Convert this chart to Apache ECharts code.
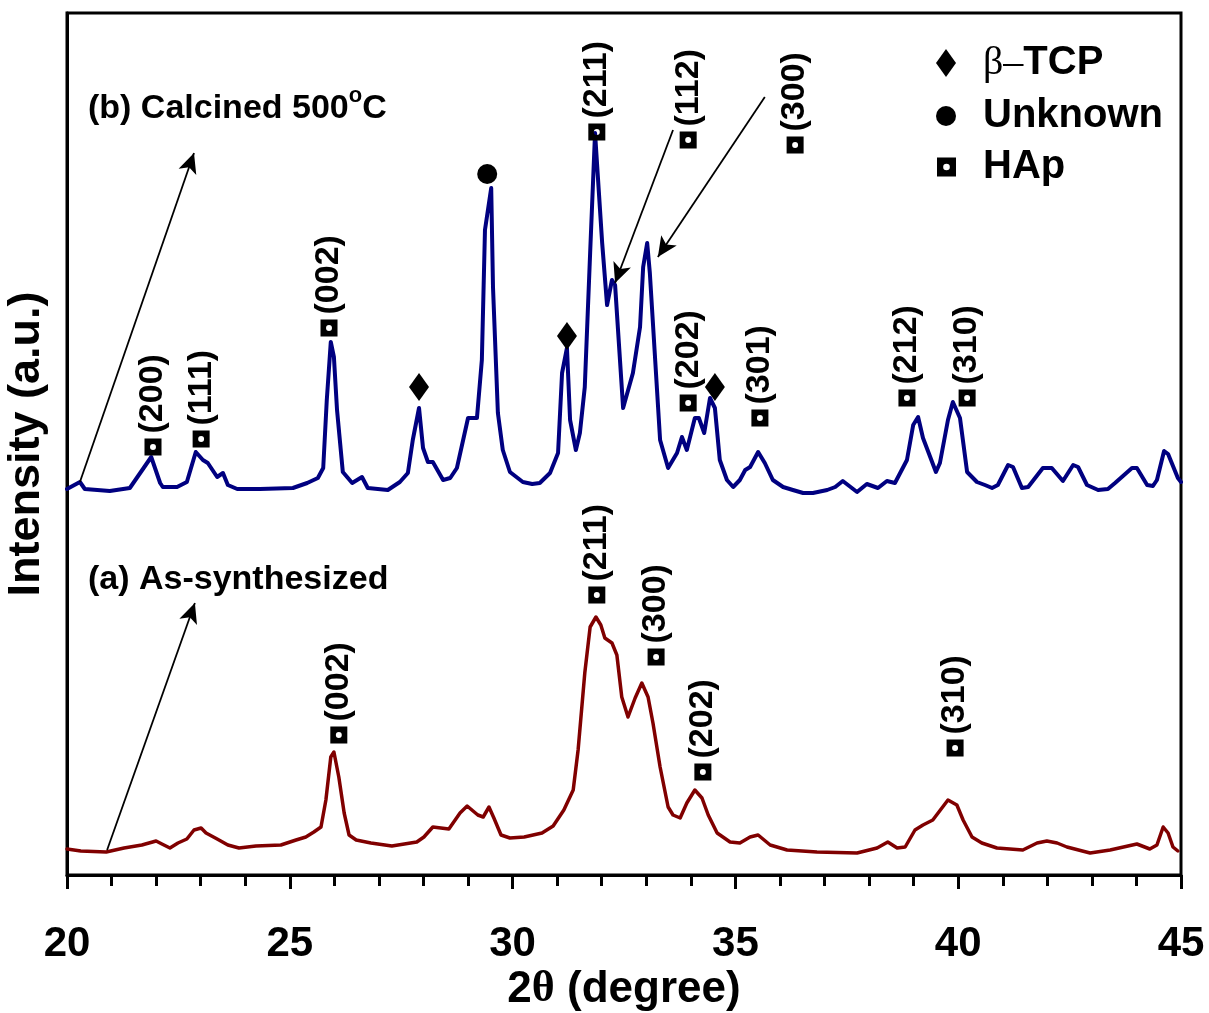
<!DOCTYPE html>
<html>
<head>
<meta charset="utf-8">
<script src="https://cdn.jsdelivr.net/npm/echarts/dist/echarts.min.js"></script>
<style>
html,body{margin:0;padding:0;background:#fff;}
#chart{width:1209px;height:1013px;}
</style>
</head>
<body>
<div id="chart"></div>
<script>
// ---------------- DATA ----------------
const xTicks = [20, 25, 30, 35, 40, 45];

// (b) Calcined 500 °C : [2θ, intensity (a.u., offset trace)]
const calcined = [
 [20.00,386],[20.29,393],[20.40,386],[20.96,384],[21.41,387],[21.89,418],[22.09,392],[22.15,388],
 [22.47,388],[22.69,393],[22.89,423],[23.05,415],[23.16,412],[23.37,398],[23.50,402],[23.61,390],
 [23.82,386],[24.33,386],[25.07,387],[25.39,392],[25.63,397],[25.75,407],[25.83,475],[25.92,533],
 [25.99,518],[26.06,465],[26.19,403],[26.40,392],[26.62,398],[26.75,387],[27.20,385],[27.47,393],
 [27.65,402],[27.76,435],[27.90,467],[27.99,427],[28.10,413],[28.21,413],[28.44,395],[28.60,397],
 [28.75,407],[29.00,457],[29.20,457],[29.31,515],[29.38,645],[29.52,687],[29.56,588],[29.67,462],
 [29.78,425],[29.94,403],[30.23,393],[30.44,391],[30.61,392],[30.84,402],[31.02,422],[31.11,502],
 [31.22,527],[31.29,455],[31.42,425],[31.51,442],[31.62,488],[31.74,622],[31.85,742],[31.89,742],
 [32.01,632],[32.12,570],[32.23,595],[32.30,590],[32.48,467],[32.70,502],[32.86,548],[32.93,608],
 [33.02,632],[33.08,602],[33.31,435],[33.49,407],[33.69,422],[33.80,438],[33.91,425],[34.09,457],
 [34.18,457],[34.30,442],[34.43,477],[34.54,467],[34.65,415],[34.81,395],[34.95,388],[35.10,395],
 [35.22,405],[35.33,408],[35.51,423],[35.66,412],[35.84,395],[36.07,388],[36.29,385],[36.52,382],
 [36.74,382],[37.06,385],[37.24,388],[37.41,394],[37.73,383],[37.95,391],[38.20,387],[38.40,394],
 [38.58,392],[38.85,415],[38.99,450],[39.10,458],[39.21,437],[39.50,403],[39.59,412],[39.77,455],
 [39.88,473],[40.04,457],[40.20,403],[40.42,393],[40.60,390],[40.76,387],[40.89,390],[41.12,410],
 [41.23,408],[41.43,387],[41.57,388],[41.90,407],[42.10,407],[42.35,394],[42.58,410],[42.69,408],
 [42.89,390],[43.14,385],[43.36,386],[43.52,392],[43.90,407],[44.01,407],[44.24,390],[44.37,389],
 [44.46,395],[44.62,424],[44.71,421],[44.93,397],[45.00,393]
];

// (a) As-synthesized : [2θ, intensity]
const asSynthesized = [
 [20.00,26],[20.31,24],[20.88,23],[21.28,27],[21.68,30],[22.00,34],[22.13,31],[22.31,27],
 [22.49,32],[22.69,36],[22.85,45],[23.01,47],[23.12,42],[23.37,36],[23.61,30],[23.86,27],
 [24.24,29],[24.80,30],[25.14,35],[25.36,38],[25.54,43],[25.70,48],[25.81,75],[25.92,118],
 [25.99,123],[26.10,98],[26.22,62],[26.33,40],[26.49,35],[26.82,32],[27.29,29],[27.85,33],
 [28.01,38],[28.21,48],[28.57,46],[28.82,62],[28.98,69],[29.22,60],[29.34,58],[29.47,68],
 [29.58,57],[29.74,40],[29.94,37],[30.26,38],[30.66,42],[30.91,49],[31.15,65],[31.36,85],
 [31.47,125],[31.62,202],[31.74,248],[31.87,258],[31.98,250],[32.07,237],[32.23,232],[32.34,220],
 [32.45,178],[32.59,158],[32.75,177],[32.90,192],[33.04,178],[33.15,152],[33.31,108],[33.49,68],
 [33.60,60],[33.76,57],[33.91,72],[34.09,85],[34.25,77],[34.39,60],[34.59,42],[34.88,33],
 [35.10,32],[35.33,38],[35.51,40],[35.78,30],[36.16,25],[36.83,23],[37.73,22],[38.18,27],
 [38.42,33],[38.63,27],[38.81,28],[39.03,45],[39.21,50],[39.43,55],[39.77,75],[39.97,70],
 [40.11,55],[40.31,38],[40.53,32],[40.87,27],[41.45,25],[41.77,32],[41.99,34],[42.22,32],
 [42.44,28],[42.96,22],[43.41,25],[44.01,31],[44.30,26],[44.46,30],[44.60,48],[44.71,42],
 [44.82,28],[44.93,24]
];

// Phase markers
const tcpPeaks = [[27.90,488],[31.22,539],[34.54,488]];
const unknownPeaks = [[29.43,701]];
const hapLabels = ['(200)','(111)','(002)','(211)','(112)','(300)','(202)','(301)','(212)','(310)',
                   '(002)','(211)','(300)','(202)','(310)'];
const hapTheta  = [21.93,23.01,25.88,31.89,33.94,36.34,33.94,35.55,38.85,40.20,
                   26.10,31.89,33.22,34.27,39.93];
const hapInt    = [428,436,547,743,735,730,472,457,477,477,
                   140,280,218,103,127];

// Arrows (from, to) in data units
const arrowsB = [[[20.29,393],[22.85,722]], [[33.60,745],[32.30,592]], [[35.66,778],[33.26,618]]];
const arrowsA = [[[20.90,25],[22.87,272]]];

// ---------------- CHART ----------------
const FONT = '"Liberation Sans", Arial, Helvetica, sans-serif';
const SERIF = '"Liberation Serif", "Times New Roman", serif';
const HAP_ICON = 'path://M0,0H20V20H0Z M10,6.5A3.5,3.5 0 1,0 10,13.5A3.5,3.5 0 1,0 10,6.5Z';

const hapData = hapLabels.map((n, i) => ({ name: n, value: [hapTheta[i], hapInt[i]] }));
const mkArrows = arr => arr.map(a => [{ coord: a[0] }, { coord: a[1] }]);

const chart = echarts.init(document.getElementById('chart'), null, { renderer: 'canvas' });

const legendText = {
  fontSize: 40, fontWeight: 'bold', color: '#000', fontFamily: FONT,
  padding: [0, 0, 0, 22],
  rich: { g: { fontSize: 40, fontFamily: SERIF, color: '#000', fontWeight: 'normal' } }
};

const option = {
  animation: false,
  backgroundColor: '#ffffff',
  tooltip: { show: false },
  grid: {
    left: 67, right: 28, top: 13, bottom: 138,
    show: true, borderColor: '#000', borderWidth: 3, backgroundColor: 'transparent',
    containLabel: false, outerBoundsMode: 'none'
  },
  xAxis: {
    type: 'value', min: 20, max: 45, interval: 5,
    splitLine: { show: false },
    axisLine: { show: true, onZero: false, lineStyle: { color: '#000', width: 3 } },
    axisTick: { show: true, inside: false, length: 14, lineStyle: { color: '#000', width: 3 } },
    minorTick: { show: true, splitNumber: 5, length: 11, lineStyle: { color: '#000', width: 3 } },
    minorSplitLine: { show: false },
    axisLabel: {
      show: true, margin: 48, fontSize: 42, fontWeight: 'bold', color: '#000', fontFamily: FONT,
      showMinLabel: true, showMaxLabel: true,
      formatter: v => (xTicks.indexOf(v) >= 0 ? String(v) : '')
    },
    name: '2{g|θ} (degree)',
    nameLocation: 'middle', nameGap: 93, nameMoveOverlap: false,
    nameTextStyle: {
      fontSize: 44, fontWeight: 'bold', color: '#000', fontFamily: FONT,
      rich: { g: { fontSize: 44, fontFamily: SERIF, fontWeight: 'bold', color: '#000' } }
    }
  },
  yAxis: {
    type: 'value', min: 0, max: 862,
    splitLine: { show: false },
    axisLine: { show: true, onZero: false, lineStyle: { color: '#000', width: 3 } },
    axisTick: { show: false },
    axisLabel: { show: false },
    name: 'Intensity (a.u.)',
    nameLocation: 'middle', nameGap: 18, nameRotate: 90, nameMoveOverlap: false,
    nameTextStyle: { fontSize: 45, fontWeight: 'bold', color: '#000', fontFamily: FONT }
  },
  legend: [
    { data: ['β–TCP'], left: 936, top: 43, padding: 0, itemWidth: 20, itemHeight: 28,
      selectedMode: false, textStyle: legendText, formatter: () => '{g|β–}TCP' },
    { data: ['Unknown'], left: 936, top: 96, padding: 0, itemWidth: 20, itemHeight: 20,
      selectedMode: false, textStyle: legendText },
    { data: ['HAp'], left: 937, top: 147, padding: 0, itemWidth: 19, itemHeight: 19,
      selectedMode: false, textStyle: legendText }
  ],
  graphic: [
    {
      type: 'text', x: 88, y: 109, silent: true,
      style: {
        text: '{m|(b) Calcined 500}{s|o}{m|C}',
        verticalAlign: 'middle', align: 'left', fill: '#000',
        rich: {
          m: { fontSize: 34, fontWeight: 'bold', fontFamily: FONT, fill: '#000', lineHeight: 48 },
          s: { fontSize: 22, fontWeight: 'bold', fontFamily: FONT, fill: '#000', verticalAlign: 'top' }
        }
      }
    },
    {
      type: 'text', x: 88, y: 580, silent: true,
      style: {
        text: '(a) As-synthesized', verticalAlign: 'middle', align: 'left', fill: '#000',
        font: 'bold 34px ' + FONT
      }
    }
  ],
  series: [
    {
      type: 'line', name: 'Calcined 500°C', data: calcined,
      showSymbol: false, symbol: 'none', smooth: false, silent: true, z: 2,
      lineStyle: { color: '#000080', width: 4, join: 'round', cap: 'round' },
      itemStyle: { color: '#000080' },
      markLine: {
        silent: true, animation: false, symbol: ['none', 'arrow'], symbolSize: [14, 20],
        lineStyle: { color: '#000', width: 1.8, type: 'solid', opacity: 1 },
        itemStyle: { color: '#000' },
        label: { show: false }, emphasis: { disabled: true },
        data: mkArrows(arrowsB)
      }
    },
    {
      type: 'line', name: 'As-synthesized', data: asSynthesized,
      showSymbol: false, symbol: 'none', smooth: false, silent: true, z: 2,
      lineStyle: { color: '#800000', width: 3.5, join: 'round', cap: 'round' },
      itemStyle: { color: '#800000' },
      markLine: {
        silent: true, animation: false, symbol: ['none', 'arrow'], symbolSize: [14, 20],
        lineStyle: { color: '#000', width: 1.8, type: 'solid', opacity: 1 },
        itemStyle: { color: '#000' },
        label: { show: false }, emphasis: { disabled: true },
        data: mkArrows(arrowsA)
      }
    },
    {
      type: 'scatter', name: 'β–TCP', data: tcpPeaks, symbol: 'diamond', symbolSize: [20, 28],
      itemStyle: { color: '#000', opacity: 1 }, z: 5, silent: true
    },
    {
      type: 'scatter', name: 'Unknown', data: unknownPeaks, symbol: 'circle', symbolSize: 20,
      itemStyle: { color: '#000', opacity: 1 }, z: 5, silent: true
    },
    {
      type: 'scatter', name: 'HAp', data: hapData, symbol: HAP_ICON, symbolSize: 17,
      itemStyle: { color: '#000', opacity: 1 }, z: 5, silent: true,
      label: {
        show: true, position: 'top', distance: 5, rotate: 90, align: 'left', verticalAlign: 'middle',
        formatter: '{b}', fontSize: 34, fontWeight: 'bold', color: '#000', opacity: 1, fontFamily: FONT
      }
    }
  ]
};
chart.setOption(option);
</script>
</body>
</html>
